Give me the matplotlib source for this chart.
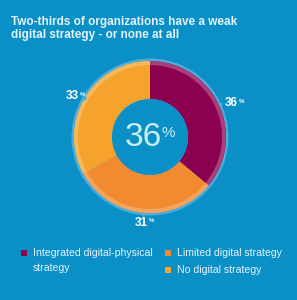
import numpy as np
import matplotlib
matplotlib.use('Agg')
import matplotlib.pyplot as plt
from matplotlib.patches import Wedge, Circle, Rectangle

# data
categories = ['Integrated digital-physical\nstrategy', 'Limited digital strategy', 'No digital strategy']
shares = [36, 31, 33]
colors = ['#8c0050', '#f28a30', '#f6a32e']
band_colors = ['#a8407a', '#f5a45e', '#f8b85a']
highlight = 36

bg = '#0a8fc7'
ring = '#49aedc'
txt = '#e4f3fa'

plt.rcParams['font.family'] = ['Liberation Sans', 'DejaVu Sans']

fig = plt.figure(figsize=(2.97, 3.0), dpi=100)
fig.patch.set_facecolor(bg)
ax = fig.add_axes([0, 0, 1, 1])
ax.set_xlim(0, 297)
ax.set_ylim(0, 300)
ax.axis('off')

cx, cy = 150, 163
r_out, r_in = 76, 38

# outer light ring
ax.add_patch(Circle((cx, cy), 78.5, color=ring, lw=0))

start = 90
for val, c, bc in zip(shares, colors, band_colors):
    sweep = val / 100 * 360
    ax.add_patch(Wedge((cx, cy), r_out, start - sweep, start, width=r_out - r_in, color=c, lw=0))
    ax.add_patch(Wedge((cx, cy), r_out, start - sweep, start, width=4, color=bc, lw=0))
    mid = np.deg2rad(start - sweep / 2)
    # small notch marker on ring
    mx, my = cx + 77 * np.cos(mid), cy + 77 * np.sin(mid)
    ax.plot(mx, my, marker=(3, 0, np.rad2deg(mid) - 90), ms=4.5, color=ring, mew=0)
    lx, ly = cx + 90 * np.cos(mid), cy + 84 * np.sin(mid) - 2
    ax.text(lx, ly, str(val), color='white', fontsize=8.5, fontweight='bold',
            ha='center', va='center')
    ax.text(lx + 7, ly + 2, '%', color='white', fontsize=4.5, fontweight='bold',
            ha='left', va='center')
    start -= sweep

ax.add_patch(Circle((cx, cy), r_in, color=bg, lw=0))
ax.text(cx + 12, cy, str(highlight), color='#c8eefb', fontsize=24, ha='right', va='center')
ax.text(cx + 11, cy + 4, '%', color='#c8eefb', fontsize=11, ha='left', va='center')

ax.text(11, 284, 'Two-thirds of organizations have a weak\ndigital strategy - or none at all',
        color=txt, fontsize=8.5, fontweight='bold', ha='left', va='top', linespacing=1.1)

# legend
leg = [(24, 47, 33), (168, 47, 177), (168, 30, 177)]
for (sx, sy, tx), c, lab in zip(leg, colors, categories):
    ax.add_patch(Rectangle((sx - 3, sy - 3), 6, 6, color=c, lw=0))
    if '\n' in lab:
        ax.text(tx, sy + 5.5, lab, color=txt, fontsize=7.6, ha='left', va='top', linespacing=1.65)
    else:
        ax.text(tx, sy, lab, color=txt, fontsize=7.6, ha='left', va='center')

fig.savefig('out.png', dpi=100, facecolor=bg)
